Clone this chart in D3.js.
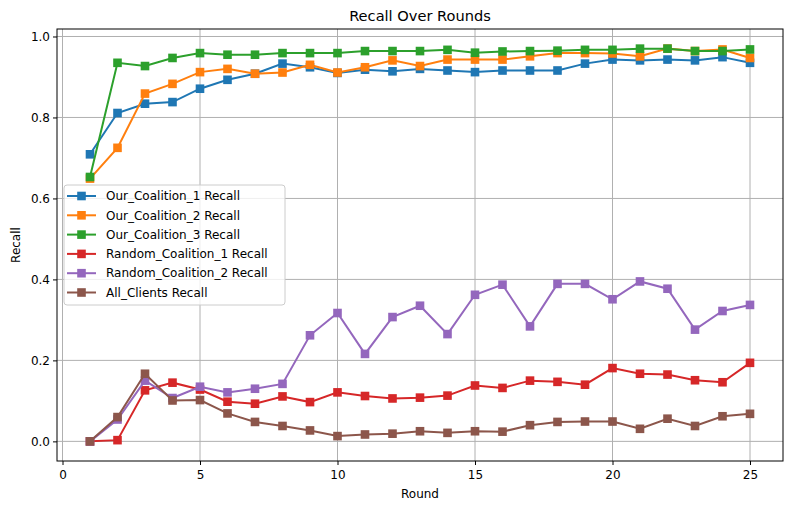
<!DOCTYPE html>
<html>
<head>
<meta charset="utf-8">
<script src="https://cdn.jsdelivr.net/npm/d3@7"></script>
<style>
  body { margin: 0; background: #fff; }
  svg { font-family: "DejaVu Sans", sans-serif; }
</style>
</head>
<body>
<div id="chart" style="width:793px;height:511px"></div>
<script>
const rounds = d3.range(1, 26);
const seriesNames = ['Our_Coalition_1 Recall', 'Our_Coalition_2 Recall', 'Our_Coalition_3 Recall',
    'Random_Coalition_1 Recall', 'Random_Coalition_2 Recall', 'All_Clients Recall'];
const colors = ['#1f77b4', '#ff7f0e', '#2ca02c', '#d62728', '#9467bd', '#8c564b'];

const ourCoalition1 = [0.709, 0.811, 0.834, 0.838, 0.871, 0.893, 0.908, 0.933, 0.924, 0.910,
    0.918, 0.914, 0.920, 0.916, 0.912, 0.916, 0.916, 0.916, 0.933, 0.943,
    0.941, 0.943, 0.941, 0.949, 0.935];
const ourCoalition2 = [0.649, 0.725, 0.859, 0.883, 0.912, 0.920, 0.908, 0.911, 0.930, 0.911,
    0.924, 0.941, 0.927, 0.943, 0.943, 0.943, 0.951, 0.959, 0.959, 0.958,
    0.951, 0.970, 0.964, 0.968, 0.947];
const ourCoalition3 = [0.653, 0.935, 0.927, 0.947, 0.959, 0.955, 0.955, 0.959, 0.959, 0.959,
    0.964, 0.964, 0.964, 0.967, 0.960, 0.963, 0.964, 0.965, 0.967, 0.967,
    0.970, 0.970, 0.964, 0.964, 0.968];
const randomCoalition1 = [0.0, 0.003, 0.126, 0.145, 0.128, 0.098, 0.093, 0.111, 0.097, 0.121,
    0.112, 0.106, 0.108, 0.113, 0.138, 0.132, 0.150, 0.147, 0.140, 0.181,
    0.167, 0.165, 0.151, 0.146, 0.194];
const randomCoalition2 = [0.0, 0.054, 0.150, 0.107, 0.135, 0.121, 0.130, 0.142, 0.262, 0.317,
    0.216, 0.307, 0.335, 0.265, 0.362, 0.387, 0.284, 0.389, 0.389, 0.351,
    0.395, 0.377, 0.276, 0.322, 0.337];
const allClients = [0.0, 0.060, 0.167, 0.101, 0.102, 0.069, 0.048, 0.038, 0.027, 0.013,
    0.017, 0.019, 0.025, 0.021, 0.025, 0.024, 0.040, 0.048, 0.049, 0.049,
    0.031, 0.056, 0.038, 0.062, 0.068];

const xTicks = [0, 5, 10, 15, 20, 25];
const yTicks = [0.0, 0.2, 0.4, 0.6, 0.8, 1.0];

const allSeries = [ourCoalition1, ourCoalition2, ourCoalition3, randomCoalition1, randomCoalition2, allClients];

const width = 793, height = 511;
const margin = { top: 29, right: 10, bottom: 50, left: 57 };
const innerW = width - margin.left - margin.right;
const innerH = height - margin.top - margin.bottom;

const svg = d3.select('#chart').append('svg')
    .attr('width', width)
    .attr('height', height);

// 坐标范围，照 matplotlib 留 5% 边距
const xPad = (d3.max(rounds) - d3.min(rounds)) * 0.05;
const x = d3.scaleLinear()
    .domain([d3.min(rounds) - xPad, d3.max(rounds) + xPad])
    .range([0, innerW]);
const yMin = d3.min(allSeries, s => d3.min(s));
const yMax = d3.max(allSeries, s => d3.max(s));
const yPad = (yMax - yMin) * 0.05;
const y = d3.scaleLinear()
    .domain([yMin - yPad, yMax + yPad])
    .range([innerH, 0]);

const g = svg.append('g').attr('transform', `translate(${margin.left},${margin.top})`);

// 网格
g.append('g').selectAll('line.gx')
    .data(xTicks).enter().append('line')
    .attr('x1', d => x(d)).attr('x2', d => x(d))
    .attr('y1', 0).attr('y2', innerH)
    .style('stroke', '#b0b0b0').style('stroke-width', 1);
g.append('g').selectAll('line.gy')
    .data(yTicks).enter().append('line')
    .attr('y1', d => y(d)).attr('y2', d => y(d))
    .attr('x1', 0).attr('x2', innerW)
    .style('stroke', '#b0b0b0').style('stroke-width', 1);

// 线条和方块
const line = d3.line()
    .x((d, i) => x(rounds[i]))
    .y(d => y(d));

allSeries.forEach((s, k) => {
    g.append('path')
        .datum(s)
        .attr('d', line)
        .style('fill', 'none')
        .style('stroke', colors[k])
        .style('stroke-width', 2);
    g.selectAll('rect.m' + k)
        .data(s).enter().append('rect')
        .attr('class', 'm' + k)
        .attr('x', (d, i) => x(rounds[i]) - 4.3)
        .attr('y', d => y(d) - 4.3)
        .attr('width', 8.6).attr('height', 8.6)
        .style('fill', colors[k]);
});

// 坐标轴
const xAxis = g.append('g')
    .attr('transform', `translate(0,${innerH})`)
    .call(d3.axisBottom(x).tickValues(xTicks).tickFormat(d3.format('d')).tickSizeOuter(0).tickSize(4));
const yAxis = g.append('g')
    .call(d3.axisLeft(y).tickValues(yTicks).tickFormat(d3.format('.1f')).tickSizeOuter(0).tickSize(4));
[xAxis, yAxis].forEach(a => {
    a.select('.domain').remove();
    a.selectAll('text').style('font-size', '12px').style('fill', '#000').style('font-family', '"DejaVu Sans", sans-serif');
    a.selectAll('line').style('stroke', '#000');
});
xAxis.selectAll('text').attr('dy', '0.9em');

g.append('rect')
    .attr('width', innerW).attr('height', innerH)
    .style('fill', 'none').style('stroke', '#000').style('stroke-width', 1);

// 标题和轴名
svg.append('text')
    .attr('x', margin.left + innerW / 2).attr('y', 21)
    .attr('text-anchor', 'middle')
    .style('font-size', '14.6px')
    .text('Recall Over Rounds');
svg.append('text')
    .attr('x', margin.left + innerW / 2).attr('y', 498)
    .attr('text-anchor', 'middle')
    .style('font-size', '12px')
    .text('Round');
svg.append('text')
    .attr('transform', `translate(20,${margin.top + innerH / 2}) rotate(-90)`)
    .attr('text-anchor', 'middle')
    .style('font-size', '12px')
    .text('Recall');

// 图例
const legend = svg.append('g').attr('transform', 'translate(64,185)');
legend.append('rect')
    .attr('width', 221).attr('height', 120)
    .attr('rx', 3)
    .style('fill', '#fff').style('fill-opacity', 0.8)
    .style('stroke', '#cccccc');
seriesNames.forEach((name, k) => {
    const row = legend.append('g').attr('transform', `translate(0,${11 + k * 19.3})`);
    row.append('line')
        .attr('x1', 3).attr('x2', 32)
        .style('stroke', colors[k]).style('stroke-width', 2);
    row.append('rect')
        .attr('x', 13.2).attr('y', -4.3)
        .attr('width', 8.6).attr('height', 8.6)
        .style('fill', colors[k]);
    row.append('text')
        .attr('x', 42).attr('dy', '0.35em')
        .style('font-size', '12px')
        .text(name);
});
</script>
</body>
</html>
